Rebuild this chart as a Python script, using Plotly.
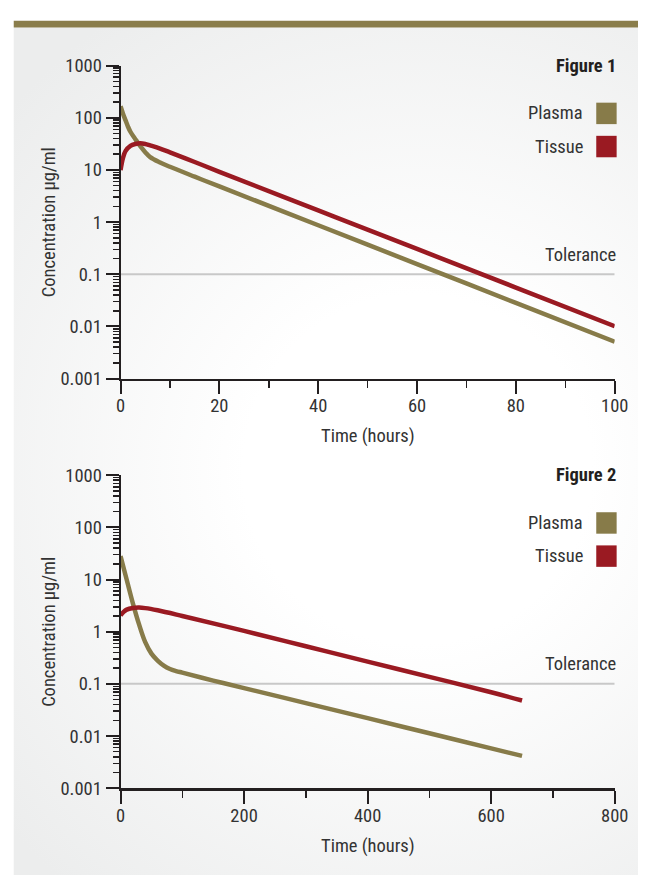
import base64
import plotly.graph_objects as go

# ---------------- data ----------------
FIG1_TIME = [0, 0.5, 1, 1.5, 2, 3, 4, 5, 6, 8, 10, 15, 20, 40, 60, 80, 100]
FIG1_PLASMA = [166, 120, 90, 68, 54, 38.9, 28.5, 21.9, 17.6, 13.9, 11.5, 7.42, 4.83, 0.871, 0.157, 0.0283, 0.0051]
FIG1_TISSUE_TIME = [0, 0.5, 1, 2, 3, 4, 5, 6, 8, 10, 15, 20, 40, 60, 80, 100]
FIG1_TISSUE = [9.9, 17, 23, 29, 31.5, 32.4, 31.5, 29.5, 25.7, 21.7, 14.2, 9.2, 1.68, 0.306, 0.0557, 0.0101]

FIG2_TIME = [0, 10, 20, 30, 40, 50, 60, 70, 80, 90, 100, 150, 200, 300, 400, 500, 600, 650]
FIG2_PLASMA = [28, 9.9, 3.5, 1.38, 0.63, 0.38, 0.28, 0.224, 0.193, 0.176, 0.164, 0.1156, 0.083, 0.0427, 0.022, 0.0113, 0.0058, 0.00417]
FIG2_TISSUE_TIME = [0, 5, 10, 20, 30, 40, 60, 100, 200, 300, 400, 500, 600, 650]
FIG2_TISSUE = [2.05, 2.4, 2.65, 2.85, 2.9, 2.83, 2.57, 2.0, 1.035, 0.526, 0.267, 0.136, 0.069, 0.048]

TOLERANCE = 0.1
Y_TICKS = [0.001, 0.01, 0.1, 1, 10, 100, 1000]
Y_TICK_TEXT = ["0.001", "0.01", "0.1", "1", "10", "100", "1000"]
Y_MINOR = [d * 10.0 ** k for k in range(-3, 3) for d in range(2, 10)]

PLASMA_COLOR = "#877b49"
TISSUE_COLOR = "#9a1a22"
INK = "#231f20"
TEXT = "#333333"
FONT = "Liberation Sans Narrow, Arial Narrow, Roboto Condensed, Liberation Sans, sans-serif"
FS = 18.5

W, H = 652, 886


def px(x):
    return x / W


def py(y):
    return 1 - y / H


fig = go.Figure()

panels = [
    dict(t=FIG1_TIME, p=FIG1_PLASMA, tt=FIG1_TISSUE_TIME, ts=FIG1_TISSUE, xa="x", ya="y", xmax=100),
    dict(t=FIG2_TIME, p=FIG2_PLASMA, tt=FIG2_TISSUE_TIME, ts=FIG2_TISSUE, xa="x2", ya="y2", xmax=800),
]
for pn in panels:
    fig.add_trace(go.Scatter(x=[0, pn["xmax"]], y=[TOLERANCE, TOLERANCE], mode="lines",
                             line=dict(color="#c8c8c8", width=2), xaxis=pn["xa"], yaxis=pn["ya"],
                             showlegend=False, hoverinfo="skip", cliponaxis=False))
    fig.add_trace(go.Scatter(x=pn["t"], y=pn["p"], mode="lines", name="Plasma",
                             line=dict(color=PLASMA_COLOR, width=4.5, shape="spline", smoothing=1),
                             xaxis=pn["xa"], yaxis=pn["ya"], showlegend=False, cliponaxis=False))
    fig.add_trace(go.Scatter(x=pn["tt"], y=pn["ts"], mode="lines", name="Tissue",
                             line=dict(color=TISSUE_COLOR, width=4.5, shape="spline", smoothing=1),
                             xaxis=pn["xa"], yaxis=pn["ya"], showlegend=False, cliponaxis=False))


def yaxis_cfg(top, bottom, anchor):
    return dict(
        type="log", range=[-3, 3], domain=[py(bottom), py(top)], anchor=anchor,
        tickmode="array", tickvals=Y_TICKS, ticktext=Y_TICK_TEXT,
        ticks="outside", ticklen=13, tickwidth=2, tickcolor=INK, ticklabelstandoff=0,
        minor=dict(tickmode="array", tickvals=Y_MINOR, ticks="outside", ticklen=6,
                   tickwidth=1.5, tickcolor=INK, showgrid=False),
        showline=True, linecolor=INK, linewidth=2, showgrid=False, zeroline=False,
        tickfont=dict(family=FONT, size=FS, color=TEXT), fixedrange=True,
    )


def xaxis_cfg(xmax, dtick, anchor):
    return dict(
        range=[0, xmax], domain=[px(119), px(628)], anchor=anchor,
        tickmode="linear", tick0=0, dtick=dtick,
        ticks="outside", ticklen=13, tickwidth=2, tickcolor=INK, ticklabelstandoff=-4,
        minor=dict(tickmode="linear", tick0=0, dtick=dtick / 2, ticks="outside", ticklen=7,
                   tickwidth=1.5, tickcolor=INK, showgrid=False),
        showline=True, linecolor=INK, linewidth=2.5, showgrid=False, zeroline=False,
        tickfont=dict(family=FONT, size=FS, color=TEXT), fixedrange=True,
    )


# soft radial background drawn as an SVG image covering the page
bg_svg = (
    '<svg xmlns="http://www.w3.org/2000/svg" width="652" height="886" viewBox="0 0 652 886">'
    '<defs><radialGradient id="g" gradientUnits="userSpaceOnUse" cx="425" cy="470" r="560">'
    '<stop offset="0" stop-color="#ffffff"/><stop offset="0.32" stop-color="#ffffff"/>'
    '<stop offset="1" stop-color="#eceded"/></radialGradient></defs>'
    '<rect x="0" y="0" width="652" height="886" fill="#ffffff"/>'
    '<rect x="9" y="17" width="643" height="869" fill="url(#g)"/>'
    '</svg>'
)
bg_src = "data:image/svg+xml;base64," + base64.b64encode(bg_svg.encode()).decode()

shapes = [dict(type="rect", xref="paper", yref="paper", x0=px(9), x1=1, y0=py(17), y1=py(10),
               fillcolor="#8a7d4b", line=dict(width=0), layer="below")]

annotations = []
for off, label in [(0, "Figure 1"), (420, "Figure 2")]:
    annotations.append(dict(text="<b>%s</b>" % label, x=px(631), y=py(56 + off), xref="paper", yref="paper",
                            xanchor="right", yanchor="middle", showarrow=False,
                            font=dict(family=FONT, size=FS, color="#231f20")))
    for name, yc, col in [("Plasma", 105, PLASMA_COLOR), ("Tissue", 139, TISSUE_COLOR)]:
        annotations.append(dict(text=name, x=px(597), y=py(yc + off), xref="paper", yref="paper",
                                xanchor="right", yanchor="middle", showarrow=False,
                                font=dict(family=FONT, size=FS, color=TEXT)))
        shapes.append(dict(type="rect", xref="paper", yref="paper",
                           x0=px(609), x1=px(630), y0=py(yc + off + 11), y1=py(yc + off - 11),
                           fillcolor=col, line=dict(width=0)))
    annotations.append(dict(text="Tolerance", x=px(631), y=py(250 + off), xref="paper", yref="paper",
                            xanchor="right", yanchor="middle", showarrow=False,
                            font=dict(family=FONT, size=FS, color=TEXT)))
    annotations.append(dict(text="Concentration µg/ml", x=px(45), y=py(217 + off), xref="paper", yref="paper",
                            xanchor="center", yanchor="middle", textangle=-90, showarrow=False,
                            font=dict(family=FONT, size=FS, color=TEXT)))
    annotations.append(dict(text="Time (hours)", x=px(374), y=py(436 + off), xref="paper", yref="paper",
                            xanchor="center", yanchor="middle", showarrow=False,
                            font=dict(family=FONT, size=FS, color=TEXT)))

fig.update_layout(
    width=W, height=H, margin=dict(l=0, r=0, t=0, b=0),
    paper_bgcolor="white", plot_bgcolor="rgba(0,0,0,0)",
    xaxis=xaxis_cfg(100, 20, "y"), yaxis=yaxis_cfg(56, 377, "x"),
    xaxis2=xaxis_cfg(800, 200, "y2"), yaxis2=yaxis_cfg(476, 797, "x2"),
    shapes=shapes, annotations=annotations, showlegend=False,
    images=[dict(source=bg_src, xref="paper", yref="paper", x=0, y=1, sizex=1, sizey=1,
                 xanchor="left", yanchor="top", sizing="stretch", layer="below")],
)

fig.write_html("out.html", config={"displayModeBar": False, "staticPlot": True},
               post_script="document.body.style.margin='0';document.body.style.overflow='hidden';")
